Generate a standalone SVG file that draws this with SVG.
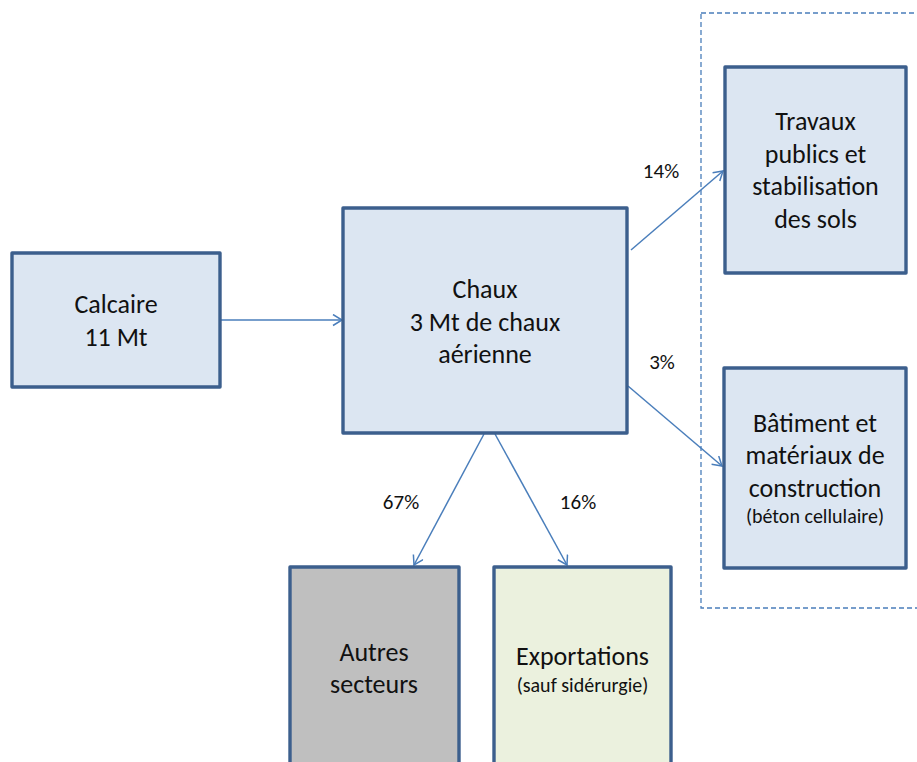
<svg xmlns="http://www.w3.org/2000/svg" width="917" height="762" viewBox="0 0 917 762">
  <style>
    .box { stroke: #3c5f8d; stroke-width: 3.4; stroke-linejoin: round; }
    .blue { fill: #dce6f2; }
    .grey { fill: #bfbfbf; }
    .green { fill: #ebf1de; }
    .t { font-family: Carlito, Lato, "Liberation Sans", sans-serif; font-size: 26px; fill: #111; text-anchor: middle; }
    .s { font-family: Carlito, Lato, "Liberation Sans", sans-serif; font-size: 20px; fill: #111; text-anchor: middle; }
    .p { font-family: Carlito, Lato, "Liberation Sans", sans-serif; font-size: 21px; fill: #111; text-anchor: middle; }
    .link { stroke: #4a7ebb; stroke-width: 1.5; fill: none; marker-end: url(#arr); }
  </style>
  <defs>
    <marker id="arr" markerWidth="14" markerHeight="14" refX="10" refY="6" orient="auto" markerUnits="userSpaceOnUse">
      <path d="M1,0.5 L10,6 L1,11.5" fill="none" stroke="#4a7ebb" stroke-width="1.5"/>
    </marker>
  </defs>

  <!-- dashed frame around building-sector outlets -->
  <rect x="701" y="13" width="240" height="595" fill="none" stroke="#4a7ebb" stroke-width="1.3" stroke-dasharray="5,3"/>

  <g id="connectors">
    <line class="link" x1="220" y1="320" x2="342" y2="320"/>
    <line class="link" x1="631" y1="250" x2="723" y2="171"/>
    <line class="link" x1="628" y1="386" x2="722" y2="466"/>
    <line class="link" x1="484" y1="434" x2="414" y2="565"/>
    <line class="link" x1="495" y1="434" x2="567" y2="565"/>
    <text class="p" x="661" y="178">14%</text>
    <text class="p" x="662" y="369">3%</text>
    <text class="p" x="401" y="509">67%</text>
    <text class="p" x="578" y="509">16%</text>
  </g>

  <g id="calcaire">
    <rect class="box blue" x="12" y="253" width="208" height="134"/>
    <text class="t" x="116" y="313">Calcaire</text>
    <text class="t" x="116" y="346">11 Mt</text>
  </g>

  <g id="chaux">
    <rect class="box blue" x="343" y="208" width="284" height="225"/>
    <text class="t" x="485" y="298">Chaux</text>
    <text class="t" x="485" y="331">3 Mt de chaux</text>
    <text class="t" x="485" y="363">aérienne</text>
  </g>

  <g id="travaux">
    <rect class="box blue" x="725" y="67" width="181" height="206"/>
    <text class="t" x="815.5" y="130">Travaux</text>
    <text class="t" x="815.5" y="163">publics et</text>
    <text class="t" x="815.5" y="195">stabilisation</text>
    <text class="t" x="815.5" y="228">des sols</text>
  </g>

  <g id="batiment">
    <rect class="box blue" x="724" y="368" width="182" height="200"/>
    <text class="t" x="815" y="432">Bâtiment et</text>
    <text class="t" x="815" y="464">matériaux de</text>
    <text class="t" x="815" y="497">construction</text>
    <text class="s" x="815" y="523">(béton cellulaire)</text>
  </g>

  <g id="autres">
    <rect class="box grey" x="290" y="567" width="169" height="230"/>
    <text class="t" x="374" y="661">Autres</text>
    <text class="t" x="374" y="693">secteurs</text>
  </g>

  <g id="exportations">
    <rect class="box green" x="494" y="567" width="177" height="230"/>
    <text class="t" x="582.5" y="665">Exportations</text>
    <text class="s" x="582.5" y="692">(sauf sidérurgie)</text>
  </g>
</svg>
